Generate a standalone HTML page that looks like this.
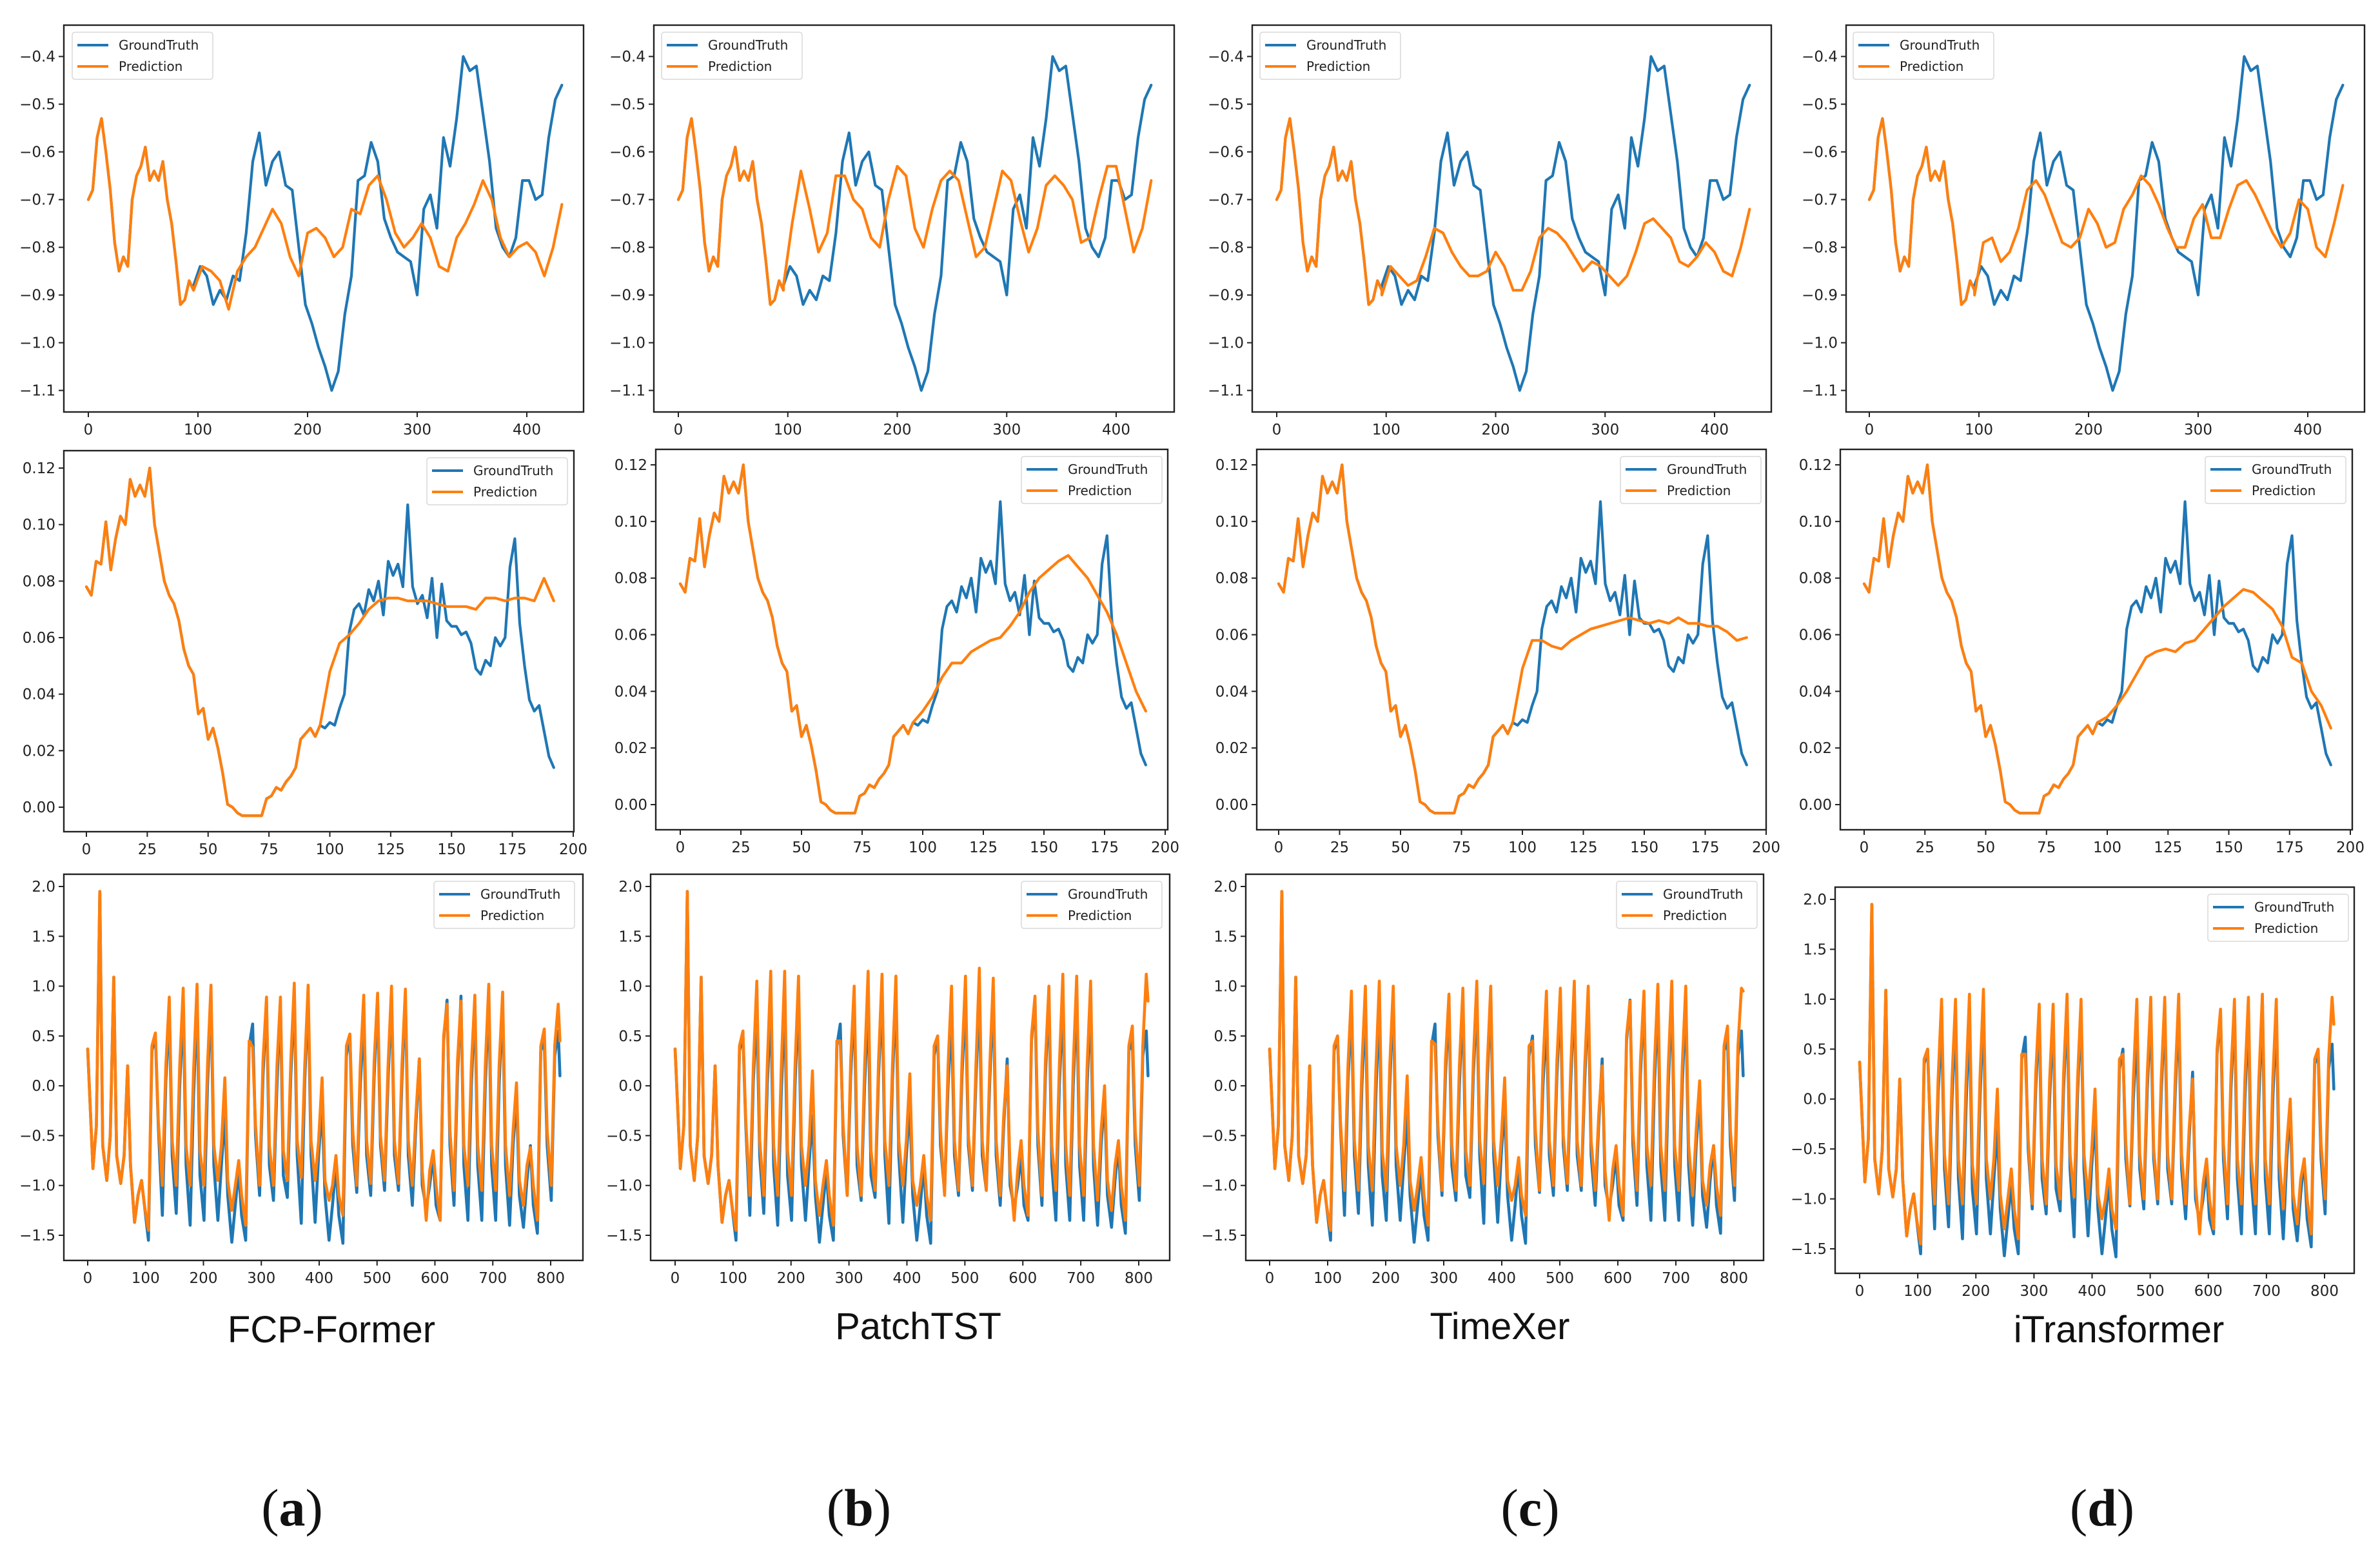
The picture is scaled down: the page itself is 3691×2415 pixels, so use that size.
<!DOCTYPE html>
<html><head><meta charset="utf-8"><title>GroundTruth vs Prediction comparison</title>
<style>
html,body{margin:0;padding:0;background:#fff;}
svg{display:block;}
</style></head>
<body>
<svg id="fig" xmlns="http://www.w3.org/2000/svg" width="3691" height="2415" viewBox="0 0 3691 2415">
<rect x="0" y="0" width="3691" height="2415" fill="#ffffff"/>
<g font-family="'Liberation Sans', 'DejaVu Sans', sans-serif" font-size="58" fill="#111" text-anchor="middle">
<text x="514" y="2082">FCP-Former</text>
<text x="1424" y="2077">PatchTST</text>
<text x="2326" y="2077">TimeXer</text>
<text x="3286" y="2082">iTransformer</text>
</g>
<g font-family="'Liberation Serif', serif" font-size="82" fill="#111" text-anchor="middle">
<text x="453" y="2366">(<tspan font-weight="bold">a</tspan>)</text>
<text x="1332" y="2366">(<tspan font-weight="bold">b</tspan>)</text>
<text x="2373" y="2366">(<tspan font-weight="bold">c</tspan>)</text>
<text x="3260" y="2366">(<tspan font-weight="bold">d</tspan>)</text>
</g>
</svg>
<script>
// ---------------- Row 1 data (x: time index) ----------------
const R1_HIST_START = 0, R1_HIST_STEP = 4;
const r1History = [-0.70,-0.68,-0.57,-0.53,-0.60,-0.68,-0.79,-0.85,-0.82,-0.84,-0.70,-0.65,-0.63,-0.59,-0.66,-0.64,-0.66,-0.62,-0.70,-0.75,-0.83,-0.92,-0.91,-0.87,-0.89];
const R1_GT_START = 96, R1_GT_STEP = 6;
const r1Truth = [-0.88,-0.84,-0.86,-0.92,-0.89,-0.91,-0.86,-0.87,-0.77,-0.62,-0.56,-0.67,-0.62,-0.60,-0.67,-0.68,-0.80,-0.92,-0.96,-1.01,-1.05,-1.10,-1.06,-0.94,-0.86,-0.66,-0.65,-0.58,-0.62,-0.74,-0.78,-0.81,-0.82,-0.83,-0.90,-0.72,-0.69,-0.76,-0.57,-0.63,-0.53,-0.40,-0.43,-0.42,-0.52,-0.62,-0.76,-0.80,-0.82,-0.78,-0.66,-0.66,-0.70,-0.69,-0.57,-0.49,-0.46];
const R1_PRED_START = 96, R1_PRED_STEP = 8;
const r1PredA = [-0.89,-0.84,-0.85,-0.87,-0.93,-0.85,-0.82,-0.80,-0.76,-0.72,-0.75,-0.82,-0.86,-0.77,-0.76,-0.78,-0.82,-0.80,-0.72,-0.73,-0.67,-0.65,-0.70,-0.77,-0.80,-0.78,-0.75,-0.78,-0.84,-0.85,-0.78,-0.75,-0.71,-0.66,-0.70,-0.78,-0.82,-0.80,-0.79,-0.81,-0.86,-0.80,-0.71];
const r1PredB = [-0.88,-0.75,-0.64,-0.72,-0.81,-0.77,-0.65,-0.65,-0.70,-0.72,-0.78,-0.80,-0.70,-0.63,-0.65,-0.76,-0.80,-0.72,-0.66,-0.64,-0.66,-0.74,-0.82,-0.80,-0.72,-0.64,-0.66,-0.74,-0.81,-0.76,-0.67,-0.65,-0.67,-0.70,-0.79,-0.78,-0.70,-0.63,-0.63,-0.72,-0.81,-0.76,-0.66];
const r1PredC = [-0.90,-0.84,-0.86,-0.88,-0.87,-0.82,-0.76,-0.77,-0.81,-0.84,-0.86,-0.86,-0.85,-0.81,-0.84,-0.89,-0.89,-0.85,-0.78,-0.76,-0.77,-0.79,-0.82,-0.85,-0.83,-0.84,-0.86,-0.88,-0.86,-0.81,-0.75,-0.74,-0.76,-0.78,-0.83,-0.84,-0.82,-0.79,-0.81,-0.85,-0.86,-0.80,-0.72];
const r1PredD = [-0.90,-0.79,-0.78,-0.83,-0.81,-0.76,-0.68,-0.66,-0.69,-0.74,-0.79,-0.80,-0.78,-0.72,-0.75,-0.80,-0.79,-0.72,-0.69,-0.65,-0.67,-0.71,-0.76,-0.80,-0.80,-0.74,-0.71,-0.78,-0.78,-0.72,-0.67,-0.66,-0.69,-0.73,-0.77,-0.80,-0.77,-0.70,-0.72,-0.80,-0.82,-0.75,-0.67];
const r1YTicks = [-1.1,-1.0,-0.9,-0.8,-0.7,-0.6,-0.5,-0.4];
const r1YLabels = ["\u22121.1","\u22121.0","\u22120.9","\u22120.8","\u22120.7","\u22120.6","\u22120.5","\u22120.4"];
const r1XTicks = [0,100,200,300,400];

// ---------------- Row 2 data ----------------
const R2_HIST_START = 0, R2_HIST_STEP = 2;
const r2History = [0.078,0.075,0.087,0.086,0.101,0.084,0.095,0.103,0.100,0.116,0.110,0.114,0.110,0.120,0.100,0.090,0.080,0.075,0.072,0.066,0.056,0.050,0.047,0.033,0.035,0.024,0.028,0.021,0.012,0.001,0.000,-0.002,-0.003,-0.003,-0.003,-0.003,-0.003,0.003,0.004,0.007,0.006,0.009,0.011,0.014,0.024,0.026,0.028,0.025,0.029];
const R2_GT_START = 96, R2_GT_STEP = 2;
const r2Truth = [0.029,0.028,0.030,0.029,0.035,0.040,0.062,0.070,0.072,0.068,0.077,0.073,0.080,0.068,0.087,0.082,0.086,0.078,0.107,0.078,0.072,0.075,0.067,0.081,0.060,0.079,0.066,0.064,0.064,0.061,0.062,0.058,0.049,0.047,0.052,0.050,0.060,0.057,0.060,0.085,0.095,0.065,0.050,0.038,0.034,0.036,0.027,0.018,0.014];
const R2_PRED_START = 96, R2_PRED_STEP = 4;
const r2PredA = [0.029,0.048,0.058,0.061,0.065,0.070,0.073,0.074,0.074,0.073,0.073,0.073,0.072,0.071,0.071,0.071,0.070,0.074,0.074,0.073,0.074,0.074,0.073,0.081,0.073];
const r2PredB = [0.029,0.033,0.038,0.045,0.050,0.050,0.054,0.056,0.058,0.059,0.063,0.068,0.075,0.080,0.083,0.086,0.088,0.084,0.080,0.074,0.068,0.060,0.050,0.040,0.033];
const r2PredC = [0.029,0.048,0.058,0.058,0.056,0.055,0.058,0.060,0.062,0.063,0.064,0.065,0.066,0.065,0.064,0.065,0.064,0.066,0.064,0.064,0.063,0.063,0.061,0.058,0.059];
const r2PredD = [0.029,0.031,0.035,0.040,0.046,0.052,0.054,0.055,0.054,0.057,0.058,0.062,0.066,0.070,0.073,0.076,0.075,0.072,0.069,0.063,0.052,0.050,0.040,0.035,0.027];
const r2YTicks = [0.00,0.02,0.04,0.06,0.08,0.10,0.12];
const r2YLabels = ["0.00","0.02","0.04","0.06","0.08","0.10","0.12"];
const r2XTicks = [0,25,50,75,100,125,150,175,200];

// ---------------- Row 3 data (daily troughs / shoulders / peaks) ----------------
const R3_START_X = 0, R3_TROUGH_X0 = 9, R3_SHOULDER_X0 = 15, R3_PEAK_X0 = 21, R3_FALL_X0 = 26, R3_PERIOD = 24, R3_END_X = 816;
const r3StartValue = 0.37;
const r3TruthTrough = [-0.83,-0.95,-0.98,-1.37,-1.55,-1.30,-1.28,-1.40,-1.35,-1.35,-1.57,-1.55,-1.10,-1.15,-1.12,-1.38,-1.37,-1.55,-1.58,-1.07,-1.10,-1.05,-1.05,-1.20,-1.23,-1.35,-1.20,-1.35,-1.35,-1.35,-1.40,-1.42,-1.48,-1.15];
const r3TruthShoulder = [-0.40,-0.50,-0.70,-1.10,0.35,0.05,0.00,-0.10,0.00,-0.80,-1.20,0.40,0.10,0.00,0.10,0.05,-0.70,-1.20,0.30,0.00,0.10,0.05,0.05,-0.40,-1.00,0.45,0.10,0.00,0.00,0.00,-0.60,-0.95,0.35,0.30];
const r3TruthPeak = [1.95,1.09,0.20,-0.95,0.50,0.75,0.80,0.85,0.90,-0.30,-0.85,0.62,0.85,0.85,0.90,0.90,-0.20,-0.80,0.50,0.68,0.85,0.90,0.90,0.27,-0.70,0.86,0.90,0.85,0.90,0.85,-0.10,-0.60,0.45,0.55];
const r3TruthFall = [-0.60,-0.70,-0.80,-1.20,-0.40,-0.70,-0.80,-0.90,-0.80,-1.10,-1.30,-0.50,-0.80,-0.90,-0.70,-0.70,-1.10,-1.30,-0.60,-0.70,-0.60,-0.70,-0.70,-1.00,-1.20,-0.60,-0.80,-0.80,-0.80,-0.80,-1.10,-1.20,-0.60,0.10];
const r3TruthEnd = 0.10;
const r3PredShoulder = [-0.40,-0.50,-0.70,-1.10,0.40,0.20,0.20,0.15,0.20,-0.60,-1.00,0.45,0.25,0.20,0.25,0.20,-0.55,-1.00,0.40,0.20,0.25,0.20,0.20,-0.30,-0.85,0.50,0.25,0.20,0.20,0.20,-0.45,-0.80,0.40,0.40];
const r3PredFall = [-0.60,-0.70,-0.80,-1.20,-0.35,-0.55,-0.60,-0.65,-0.60,-0.95,-1.10,-0.40,-0.60,-0.65,-0.55,-0.55,-0.95,-1.10,-0.45,-0.55,-0.50,-0.55,-0.55,-0.85,-1.00,-0.45,-0.60,-0.60,-0.60,-0.60,-0.95,-1.00,-0.45,0.50];
const r3PredATrough = [-0.83,-0.95,-0.98,-1.37,-1.45,-1.00,-1.00,-1.00,-1.00,-0.95,-1.25,-1.40,-1.00,-1.00,-0.95,-0.92,-0.95,-1.15,-1.30,-1.00,-0.98,-0.95,-0.98,-1.00,-1.35,-1.35,-1.05,-1.00,-1.05,-1.05,-1.10,-1.20,-1.35,-1.00];
const r3PredAPeak = [1.95,1.09,0.20,-0.95,0.53,0.89,0.98,1.02,1.01,0.08,-0.75,0.39,0.89,0.89,1.03,1.01,0.08,-0.70,0.52,0.91,0.93,1.00,0.97,0.27,-0.65,0.82,0.85,0.91,1.02,0.94,0.03,-0.62,0.57,0.82];
const r3PredAEnd = 0.45;
const r3PredBTrough = [-0.83,-0.95,-0.98,-1.37,-1.45,-1.10,-1.10,-1.10,-1.10,-1.00,-1.30,-1.40,-1.10,-1.10,-1.05,-1.00,-1.00,-1.20,-1.35,-1.10,-1.05,-1.00,-1.05,-1.10,-1.35,-1.30,-1.10,-1.05,-1.10,-1.10,-1.15,-1.25,-1.35,-1.00];
const r3PredBPeak = [1.95,1.09,0.20,-0.95,0.55,1.05,1.15,1.15,1.10,0.15,-0.75,0.45,1.00,1.15,1.12,1.10,0.12,-0.70,0.50,1.00,1.10,1.18,1.08,0.20,-0.55,0.90,1.00,1.12,1.10,1.05,0.00,-0.55,0.60,1.12];
const r3PredBEnd = 0.85;
const r3PredCTrough = [-0.83,-0.95,-0.98,-1.37,-1.45,-1.05,-1.05,-1.05,-1.05,-1.00,-1.25,-1.40,-1.05,-1.05,-1.00,-0.98,-1.00,-1.15,-1.30,-1.05,-1.00,-0.98,-1.00,-1.05,-1.35,-1.30,-1.05,-1.00,-1.05,-1.05,-1.10,-1.20,-1.30,-1.00];
const r3PredCPeak = [1.95,1.09,0.20,-0.95,0.50,0.95,1.00,1.05,1.00,0.10,-0.72,0.42,0.92,0.98,1.05,1.00,0.08,-0.72,0.45,0.95,0.98,1.05,1.00,0.20,-0.60,0.85,0.95,1.02,1.05,1.00,0.05,-0.60,0.60,0.98];
const r3PredCEnd = 0.95;
const r3PredDTrough = [-0.83,-0.95,-0.98,-1.37,-1.45,-1.05,-1.05,-1.05,-1.05,-1.00,-1.30,-1.40,-1.05,-1.05,-1.00,-0.98,-1.00,-1.20,-1.30,-1.05,-1.00,-1.00,-1.00,-1.05,-1.35,-1.30,-1.05,-1.05,-1.05,-1.05,-1.10,-1.25,-1.35,-1.00];
const r3PredDPeak = [1.95,1.09,0.20,-0.95,0.50,1.00,1.00,1.05,1.10,0.10,-0.70,0.45,0.95,0.95,1.05,1.00,0.10,-0.70,0.45,1.00,1.02,1.02,1.05,0.20,-0.60,0.90,1.00,1.02,1.05,1.00,0.00,-0.60,0.50,1.02];
const r3PredDEnd = 0.75;
const r3YTicks = [-1.5,-1.0,-0.5,0.0,0.5,1.0,1.5,2.0];
const r3YLabels = ["\u22121.5","\u22121.0","\u22120.5","0.0","0.5","1.0","1.5","2.0"];
const r3XTicks = [0,100,200,300,400,500,600,700,800];

// ---------------- layout (pixels, not data) ----------------
const NS = "http://www.w3.org/2000/svg";
const svg = document.getElementById('fig');
const BLUE = "#1f77b4", ORANGE = "#ff7f0e";
const FONT = "'DejaVu Sans', 'Liberation Sans', sans-serif";

function mk(tag, attrs, parent) {
  const e = document.createElementNS(NS, tag);
  for (const k in attrs) e.setAttribute(k, attrs[k]);
  (parent || svg).appendChild(e);
  return e;
}
function scale(v0, v1, p0, p1) { return v => p0 + (v - v0) * (p1 - p0) / (v1 - v0); }

function seqPoints(vals, start, step) { return vals.map((v, i) => [start + i * step, v]); }
function dailyPoints(startV, troughs, shoulders, peaks, falls, endV) {
  const pts = [[R3_START_X, startV]];
  for (let k = 0; k < troughs.length; k++) {
    pts.push([R3_TROUGH_X0 + k * R3_PERIOD, troughs[k]]);
    pts.push([R3_SHOULDER_X0 + k * R3_PERIOD, shoulders[k]]);
    pts.push([R3_PEAK_X0 + k * R3_PERIOD, peaks[k]]);
    if (k < troughs.length - 1) pts.push([R3_FALL_X0 + k * R3_PERIOD, falls[k]]);
  }
  pts.push([R3_END_X, endV]);
  return pts;
}

let clipId = 0;
function drawPanel(p) {
  const g = mk('g', {}, svg);
  
  
  const sx = scale(p.xv[0], p.xv[1], p.xp[0], p.xp[1]);
  const sy = scale(p.yv[0], p.yv[1], p.yp[0], p.yp[1]);
  const [L, T, R, B] = p.box;
  const cid = 'clip' + (clipId++);
  const cp = mk('clipPath', {id: cid}, g);
  mk('rect', {x: L, y: T, width: R - L, height: B - T}, cp);

  const lines = mk('g', {'clip-path': 'url(#' + cid + ')'}, g);
  
  
  const toPath = pts => pts.map((q, i) => (i ? 'L' : 'M') + sx(q[0]).toFixed(1) + ' ' + sy(q[1]).toFixed(1)).join(' ');
  const gt = mk('path', {d: toPath(p.truth), fill: 'none', stroke: BLUE, 'stroke-width': p.lw, 'stroke-linejoin': 'round', 'stroke-linecap': 'round'}, lines);
  
  
  const pr = mk('path', {d: toPath(p.pred), fill: 'none', stroke: ORANGE, 'stroke-width': p.lw, 'stroke-linejoin': 'round', 'stroke-linecap': 'round'}, lines);
  
  

  const fr = mk('rect', {x: L, y: T, width: R - L, height: B - T, fill: 'none', stroke: '#222', 'stroke-width': 2.4}, g);
  
  

  const xa = mk('g', {}, g);
  
  
  p.xticks.forEach(t => {
    const x = sx(t);
    mk('line', {x1: x, y1: B, x2: x, y2: B + 8, stroke: '#222', 'stroke-width': 2}, xa);
    const tx = mk('text', {x: x, y: B + 35, 'font-family': FONT, 'font-size': 23, fill: '#222', 'text-anchor': 'middle'}, xa);
    
    
    tx.textContent = String(t);
  });
  const ya = mk('g', {}, g);
  
  
  p.yticks.forEach((t, i) => {
    const y = sy(t);
    mk('line', {x1: L - 8, y1: y, x2: L, y2: y, stroke: '#222', 'stroke-width': 2}, ya);
    const ty = mk('text', {x: L - 13, y: y + 8, 'font-family': FONT, 'font-size': 23, fill: '#222', 'text-anchor': 'end'}, ya);
    
    
    ty.textContent = p.ylabels[i];
  });

  const lg = mk('g', {}, g);
  
  
  const [lx, ly] = p.legend;
  mk('rect', {x: lx, y: ly, width: 218, height: 73, rx: 4, fill: '#fff', 'fill-opacity': 0.85, stroke: '#d8d8d8', 'stroke-width': 1.5}, lg);
  [['GroundTruth', BLUE, 20], ['Prediction', ORANGE, 53]].forEach(e => {
    const row = mk('g', {}, lg);
    
    
    mk('line', {x1: lx + 8, y1: ly + e[2], x2: lx + 56, y2: ly + e[2], stroke: e[1], 'stroke-width': 4}, row);
    const lt = mk('text', {x: lx + 72, y: ly + e[2] + 7, 'font-family': FONT, 'font-size': 20, fill: '#222'}, row);
    lt.textContent = e[0];
  });
}

const cols = ['a', 'b', 'c', 'd'];
const r1Preds = [r1PredA, r1PredB, r1PredC, r1PredD];
const r1Boxes = [[99,39,905,639],[1014,39,1821,639],[1942,39,2747,639],[2863,39,3667,639]];
const r1Xp = [[137,817],[1052,1731],[1980,2659],[2899,3579]];
const r1Leg = [[112,50],[1026,50],[1954,50],[2874,50]];
const r1Truth_full = seqPoints(r1History, R1_HIST_START, R1_HIST_STEP).concat(seqPoints(r1Truth, R1_GT_START, R1_GT_STEP));
for (let i = 0; i < 4; i++) {
  drawPanel({name: 'panel-row1-' + cols[i], box: r1Boxes[i], xv: [0, 400], xp: r1Xp[i], yv: [-0.4, -1.1], yp: [87.6, 605.6], lw: 4.2,
    truth: r1Truth_full,
    pred: seqPoints(r1History, R1_HIST_START, R1_HIST_STEP).concat(seqPoints(r1Preds[i], R1_PRED_START, R1_PRED_STEP)),
    xticks: r1XTicks, yticks: r1YTicks, ylabels: r1YLabels, legend: r1Leg[i]});
}
const r2Preds = [r2PredA, r2PredB, r2PredC, r2PredD];
const r2Boxes = [[99,699,890,1290],[1017,697,1811,1287],[1949,697,2739,1287],[2854,697,3648,1287]];
const r2Xp = [[134,889],[1055,1807],[1983,2739],[2891,3645]];
const r2Yp = [[726,1252],[721,1248],[721,1248],[721,1248]];
const r2Leg = [[662,710],[1584,708],[2513,708],[3420,708]];
const r2Truth_full = seqPoints(r2History, R2_HIST_START, R2_HIST_STEP).concat(seqPoints(r2Truth, R2_GT_START, R2_GT_STEP));
for (let i = 0; i < 4; i++) {
  drawPanel({name: 'panel-row2-' + cols[i], box: r2Boxes[i], xv: [0, 200], xp: r2Xp[i], yv: [0.12, 0.0], yp: r2Yp[i], lw: 4.2,
    truth: r2Truth_full,
    pred: seqPoints(r2History, R2_HIST_START, R2_HIST_STEP).concat(seqPoints(r2Preds[i], R2_PRED_START, R2_PRED_STEP)),
    xticks: r2XTicks, yticks: r2YTicks, ylabels: r2YLabels, legend: r2Leg[i]});
}
const r3PredTroughs = [r3PredATrough, r3PredBTrough, r3PredCTrough, r3PredDTrough];
const r3PredPeaks = [r3PredAPeak, r3PredBPeak, r3PredCPeak, r3PredDPeak];
const r3PredEnds = [r3PredAEnd, r3PredBEnd, r3PredCEnd, r3PredDEnd];
const r3Boxes = [[99,1356,904,1955],[1009,1356,1814,1955],[1932,1356,2735,1955],[2846,1376,3651,1975]];
const r3Xp = [[136,854],[1047,1766],[1969,2689],[2884,3605]];
const r3Yp = [[1375,1916],[1375,1916],[1375,1916],[1395,1937]];
const r3Leg = [[673,1367],[1584,1367],[2507,1367],[3424,1387]];
for (let i = 0; i < 4; i++) {
  drawPanel({name: 'panel-row3-' + cols[i], box: r3Boxes[i], xv: [0, 800], xp: r3Xp[i], yv: [2.0, -1.5], yp: r3Yp[i], lw: 4.6,
    truth: dailyPoints(r3StartValue, r3TruthTrough, r3TruthShoulder, r3TruthPeak, r3TruthFall, r3TruthEnd),
    pred: dailyPoints(r3StartValue, r3PredTroughs[i], r3PredShoulder, r3PredPeaks[i], r3PredFall, r3PredEnds[i]),
    xticks: r3XTicks, yticks: r3YTicks, ylabels: r3YLabels, legend: r3Leg[i]});
}
</script>
</body></html>
